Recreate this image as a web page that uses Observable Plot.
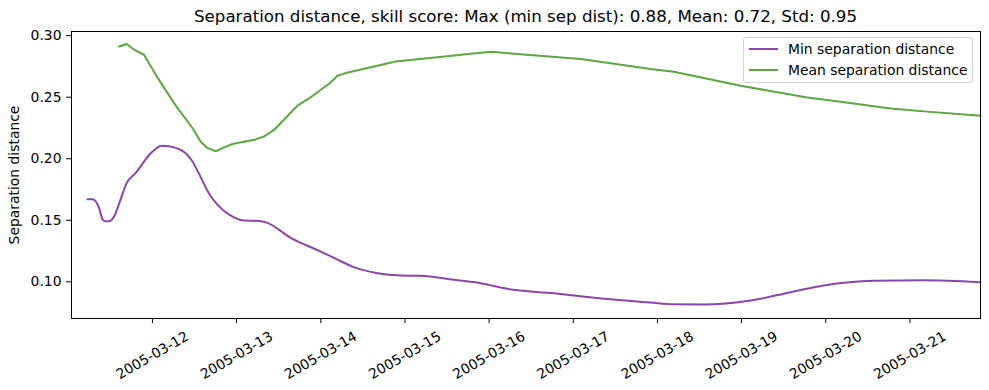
<!DOCTYPE html>
<html><head><meta charset="utf-8">
<script src="https://cdn.jsdelivr.net/npm/d3@7"></script>
<script src="https://cdn.jsdelivr.net/npm/@observablehq/plot@0.6"></script>
<style>
body{margin:0;background:#fff;font-family:"DejaVu Sans",sans-serif;color:#000;}
#wrap{position:relative;width:989px;height:390px;overflow:hidden;}
#title{height:30px;box-sizing:border-box;padding:0 9px 0 71px;text-align:center;font-size:16.67px;line-height:34px;white-space:nowrap;}
#legend{position:absolute;left:743px;top:37px;width:230px;height:46px;border:1px solid #d4d4d4;border-radius:3px;box-sizing:border-box;background:rgba(255,255,255,0.85);font-size:13.9px;}
.row{position:absolute;left:0;height:20px;width:100%;}
.sw{position:absolute;left:5px;width:29px;height:2px;top:9px;}
.lb{position:absolute;left:44px;top:0;line-height:20px;white-space:nowrap;}
</style></head>
<body>
<div id="wrap">
<div id="title"></div>
<div id="chart"></div>
<div id="legend"></div>
</div>
<script>
const titleText = "Separation distance, skill score: Max (min sep dist): 0.88, Mean: 0.72, Std: 0.95";
const seriesNames = ["Min separation distance", "Mean separation distance"];
const seriesColors = ["#8e44ad", "#5aa83e"];
const yLabel = "Separation distance";

const minTimes = ["2005-03-11T05:28","2005-03-11T06:53","2005-03-11T07:50","2005-03-11T08:47","2005-03-11T09:45","2005-03-11T10:41","2005-03-11T11:55","2005-03-11T13:03","2005-03-11T14:28","2005-03-11T16:40","2005-03-11T19:14","2005-03-11T23:31","2005-03-12T02:39","2005-03-12T04:44","2005-03-12T09:30","2005-03-12T10:55","2005-03-12T16:38","2005-03-12T18:32","2005-03-12T23:16","2005-03-13T02:07","2005-03-13T06:23","2005-03-13T08:47","2005-03-13T15:26","2005-03-14T00:00","2005-03-14T03:47","2005-03-14T09:29","2005-03-14T16:09","2005-03-14T22:48","2005-03-15T04:30","2005-03-15T14:00","2005-03-15T21:36","2005-03-16T05:13","2005-03-16T18:30","2005-03-17T08:46","2005-03-17T22:04","2005-03-18T04:43","2005-03-18T13:16","2005-03-19T02:35","2005-03-19T14:00","2005-03-19T23:28","2005-03-20T13:44","2005-03-21T04:00","2005-03-21T20:08"];
const minValues = [0.1670,0.1670,0.1654,0.1601,0.1508,0.1492,0.1495,0.1530,0.1633,0.1804,0.1885,0.2044,0.2106,0.2101,0.2044,0.1998,0.1695,0.1627,0.1524,0.1498,0.1495,0.1479,0.1357,0.1246,0.1195,0.1119,0.1070,0.1051,0.1049,0.1016,0.0989,0.0943,0.0907,0.0862,0.0832,0.0818,0.0816,0.0848,0.0916,0.0970,0.1008,0.1013,0.0997];

const meanTimes = ["2005-03-11T14:28","2005-03-11T16:40","2005-03-11T18:45","2005-03-11T21:36","2005-03-12T01:25","2005-03-12T06:39","2005-03-12T11:24","2005-03-12T13:46","2005-03-12T15:41","2005-03-12T18:03","2005-03-12T20:25","2005-03-12T22:48","2005-03-13T05:27","2005-03-13T07:49","2005-03-13T10:41","2005-03-13T17:20","2005-03-13T20:38","2005-03-14T02:50","2005-03-14T04:45","2005-03-14T07:06","2005-03-14T21:22","2005-03-16T00:27","2005-03-17T02:07","2005-03-17T22:05","2005-03-18T04:43","2005-03-18T23:44","2005-03-19T18:45","2005-03-20T04:15","2005-03-20T18:30","2005-03-21T04:00","2005-03-21T20:08"];
const meanValues = [0.2912,0.2932,0.2886,0.2845,0.2661,0.2432,0.2250,0.2139,0.2088,0.2060,0.2093,0.2120,0.2157,0.2182,0.2234,0.2431,0.2490,0.2620,0.2675,0.2696,0.2791,0.2869,0.2810,0.2729,0.2707,0.2593,0.2498,0.2463,0.2409,0.2385,0.2350];

const xTickLabels = ["2005-03-12","2005-03-13","2005-03-14","2005-03-15","2005-03-16","2005-03-17","2005-03-18","2005-03-19","2005-03-20","2005-03-21"];
const yTicks = [0.10, 0.15, 0.20, 0.25, 0.30];
const xDomain = ["2005-03-11T00:55", "2005-03-21T20:08"];
const yDomain = [0.0702, 0.3034];

const parse = s => new Date(s.length <= 10 ? s + "T00:00Z" : s + "Z");
const minRows = minTimes.map((t, i) => ({t: parse(t), v: minValues[i]}));
const meanRows = meanTimes.map((t, i) => ({t: parse(t), v: meanValues[i]}));

document.getElementById("title").textContent = titleText;

const chart = Plot.plot({
  width: 989, height: 360,
  marginTop: 1, marginBottom: 72, marginLeft: 71, marginRight: 9,
  style: {fontFamily: "DejaVu Sans", fontSize: "13.9px", color: "#000", background: "white", overflow: "visible"},
  x: {type: "utc", domain: xDomain.map(parse)},
  y: {domain: yDomain},
  marks: [
    Plot.axisX({ticks: xTickLabels.map(parse), tickFormat: d3.utcFormat("%Y-%m-%d"), tickSize: 5, tickPadding: 32, tickRotate: -30, textAnchor: "middle", lineAnchor: "middle", label: null, fontSize: 13.9}),
    Plot.axisY({ticks: yTicks, tickFormat: d => d.toFixed(2), tickSize: 5, tickPadding: 5, label: yLabel, labelAnchor: "center", labelArrow: "none", labelOffset: 62, fontSize: 13.9}),
    Plot.line(minRows, {x: "t", y: "v", stroke: seriesColors[0], strokeWidth: 2, curve: "monotone-x"}),
    Plot.line(meanRows, {x: "t", y: "v", stroke: seriesColors[1], strokeWidth: 2, curve: "linear", strokeLinejoin: "round"}),
    Plot.frame({stroke: "#000", strokeWidth: 1})
  ]
});
document.getElementById("chart").appendChild(chart);

const lg = document.getElementById("legend");
seriesNames.forEach((n, i) => {
  const r = document.createElement("div");
  r.className = "row";
  r.style.top = (1 + i * 21) + "px";
  const sw = document.createElement("span");
  sw.className = "sw"; sw.style.background = seriesColors[i];
  const lb = document.createElement("span");
  lb.className = "lb"; lb.textContent = n;
  r.appendChild(sw); r.appendChild(lb);
  lg.appendChild(r);
});
</script>
</body></html>
